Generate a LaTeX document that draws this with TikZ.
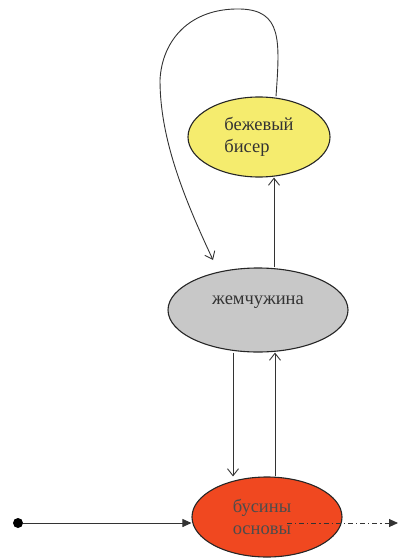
\documentclass[tikz,border=0pt]{standalone}
\usepackage{fontspec}
\setmainfont{Liberation Serif}
\usetikzlibrary{arrows.meta,shapes.geometric}
\definecolor{beadyellow}{RGB}{245,236,110}
\definecolor{pearlgray}{RGB}{200,200,200}
\definecolor{basered}{RGB}{240,72,32}
\begin{document}
\begin{tikzpicture}[x=1pt,y=-1pt,
  state/.style={ellipse, draw=black!85, line width=1.1pt, inner sep=0pt, text=black!80, font=\fontsize{18.5}{22}\selectfont},
  flow/.style={draw=black!80, line width=0.9pt, -{Straight Barb[length=7pt,width=11pt,line width=0.9pt]}},
  feed/.style={draw=black!80, line width=0.9pt, -{Triangle[length=9pt,width=8pt]}}]
\useasboundingbox (0,0) rectangle (398,559);
% states
\node[state, fill=beadyellow, minimum width=142pt, minimum height=80pt, align=left] (bead) at (259,137) {бежевый\\бисер};
\node[state, fill=pearlgray, minimum width=180pt, minimum height=84pt] (pearl) at (258,310) {\raisebox{6pt}[0pt][0pt]{жемчужина}};
\node[state, fill=basered, minimum width=150pt, minimum height=80pt, align=left, text=black!70] (base) at (267,517) {\hspace*{-10pt}бусины\\\hspace*{-10pt}основы};
% start point and exit
\node[circle, fill=black, inner sep=0pt, minimum size=10pt] (start) at (18,523) {};
\coordinate (exitfrom) at (287,523);
\coordinate (exit) at (398,523);
\draw[feed] (start) -- (base.west |- start);
\draw[draw=black!80, line width=0.9pt, dash pattern=on 5pt off 3pt on 1.2pt off 3pt, -{Triangle[length=9pt,width=8pt]}] (exitfrom) -- (exit);
% transitions
\draw[flow] (pearl.south -| 233,0) -- (base.north -| 233,0);
\draw[flow] (base.north -| 275,0) -- (pearl.south -| 275,0);
\draw[flow] (pearl.north -| 274,0) -- (bead.south -| 274,0);
% loop from the beige bead back to the pearl
\draw[flow] (bead.north -| 276,0) .. controls (280,40) and (282,10) .. (240,9)
  .. controls (190,8) and (162,40) .. (160,80)
  .. controls (160,140) and (185,200) .. (213,260);
\end{tikzpicture}
\end{document}
